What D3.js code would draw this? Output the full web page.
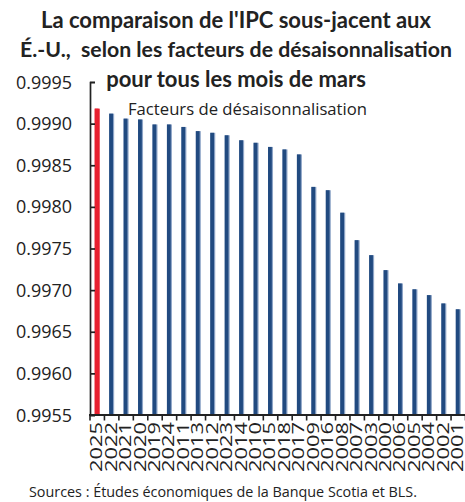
<!DOCTYPE html>
<html>
<head>
<meta charset="utf-8">
<script src="https://cdn.jsdelivr.net/npm/d3@7"></script>
<style>
  body { margin: 0; background: #fff; }
  svg { display: block; }
  text { font-family: "Open Sans", "Noto Sans", sans-serif; fill: #222; white-space: pre; }
</style>
</head>
<body>
<svg width="465" height="502"></svg>
<script>
// facteurs de désaisonnalisation, mois de mars, triés
var years = ["2025", "2022", "2021", "2020", "2019", "2024", "2011", "2013", "2012", "2023",
             "2014", "2010", "2015", "2018", "2017", "2009", "2016", "2008", "2007", "2003",
             "2000", "2006", "2005", "2004", "2002", "2001"];
var factors = [0.99918, 0.99912, 0.99906, 0.99905, 0.99899, 0.99899, 0.99896, 0.99891, 0.99889, 0.99886,
               0.99880, 0.99877, 0.99872, 0.99869, 0.99863, 0.99824, 0.99820, 0.99793, 0.99760, 0.99742,
               0.99724, 0.99708, 0.99701, 0.99694, 0.99684, 0.99677];
var yTicks = [0.9955, 0.9960, 0.9965, 0.9970, 0.9975, 0.9980, 0.9985, 0.9990, 0.9995];
var titleLines = ["La comparaison de l'IPC sous-jacent aux",
                  "É.-U.,  selon les facteurs de désaisonnalisation",
                  "pour tous les mois de mars"];
var legendLabel = "Facteurs de désaisonnalisation";
var sourceLabel = "Sources : Études économiques de la Banque Scotia et BLS.";

var svg = d3.select("svg");
var data = years.map(function(y, i) { return { year: y, value: factors[i] }; });

var x = d3.scaleBand().domain(years).range([90, 465.5]).padding(0);
var y = d3.scaleLinear().domain([0.9955, 0.9995]).range([415, 82]);

// titre : taille ajustée pour tenir dans la largeur voulue
var title = svg.append("g").attr("class", "title");
var titleLayout = [[28, 392], [57, 432], [87, 261]];
title.selectAll("text")
    .data(titleLines)
    .enter().append("text")
    .attr("x", 236)
    .attr("y", function(d, i) { return titleLayout[i][0]; })
    .attr("text-anchor", "middle")
    .style("font-family", "Lato, 'Open Sans', sans-serif")
    .attr("font-size", 21)
    .attr("font-weight", "bold")
    .attr("fill", "#111")
    .text(function(d) { return d; })
    .each(function(d, i) {
      var w = this.getComputedTextLength();
      var fs = Math.min(22, 21 * titleLayout[i][1] / w);
      d3.select(this).attr("font-size", fs);
    });

// barres
var bw = 5;
var bars = svg.append("g").attr("class", "bars")
  .selectAll("g")
  .data(data)
  .enter().append("g");

bars.append("rect")
    .attr("x", function(d) { return x(d.year) + x.bandwidth() / 2 - bw / 2; })
    .attr("y", function(d) { return y(d.value); })
    .attr("width", bw)
    .attr("height", function(d) { return y(0.9955) - y(d.value); })
    .attr("fill", function(d, i) { return i == 0 ? "#e8202f" : "#8ea5c7"; });

bars.append("rect")
    .attr("x", function(d) { return x(d.year) + x.bandwidth() / 2 - bw / 2; })
    .attr("y", function(d) { return y(d.value); })
    .attr("width", bw - 1.2)
    .attr("height", function(d) { return y(0.9955) - y(d.value); })
    .attr("fill", function(d, i) { return i == 0 ? "#e8202f" : "#214a80"; });

// axe y
var yAxis = svg.append("g")
    .attr("transform", "translate(90,0)")
    .call(d3.axisLeft(y)
      .tickValues(yTicks)
      .tickFormat(d3.format(".4f"))
      .tickSize(-5)
      .tickSizeOuter(-5)
      .tickPadding(18));
yAxis.select(".domain").attr("stroke", "#222").attr("stroke-width", 1.7);
yAxis.selectAll(".tick line").attr("stroke", "#222").attr("stroke-width", 1.7);
yAxis.selectAll(".tick text")
    .attr("font-family", "Open Sans")
    .attr("font-size", 19)
    .attr("fill", "#222")
    .attr("textLength", 56)
    .attr("lengthAdjust", "spacingAndGlyphs");

// axe x
var xAxis = svg.append("g").attr("class", "x-axis");
xAxis.append("line")
    .attr("x1", 89).attr("x2", x.range()[1])
    .attr("y1", y(0.9955)).attr("y2", y(0.9955))
    .attr("stroke", "#222").attr("stroke-width", 2);

var bounds = years.map(function(d) { return x(d); }).concat([x.range()[1]]);
xAxis.selectAll("line.tk")
    .data(bounds)
    .enter().append("line")
    .attr("class", "tk")
    .attr("x1", function(d) { return d; }).attr("x2", function(d) { return d; })
    .attr("y1", y(0.9955)).attr("y2", y(0.9955) + 5.5)
    .attr("stroke", "#222").attr("stroke-width", 1.6);

xAxis.selectAll("text")
    .data(years)
    .enter().append("text")
    .attr("transform", function(d) {
      return "translate(" + (x(d) + x.bandwidth() / 2) + "," + (y(0.9955) + 7) + ") rotate(-90)";
    })
    .attr("text-anchor", "end")
    .attr("dy", "0.3em")
    .attr("font-size", 16.5)
    .attr("fill", "#222")
    .attr("textLength", 50)
    .attr("lengthAdjust", "spacingAndGlyphs")
    .text(function(d) { return d; });

// légende
svg.append("text")
    .attr("x", 128)
    .attr("y", 115)
    .attr("font-size", 17)
    .attr("fill", "#222")
    .attr("textLength", 239)
    .attr("lengthAdjust", "spacingAndGlyphs")
    .text(legendLabel);

// source
svg.append("text")
    .attr("x", 29)
    .attr("y", 497)
    .attr("font-size", 14)
    .attr("fill", "#333")
    .attr("textLength", 388)
    .attr("lengthAdjust", "spacingAndGlyphs")
    .text(sourceLabel);
</script>
</body>
</html>
